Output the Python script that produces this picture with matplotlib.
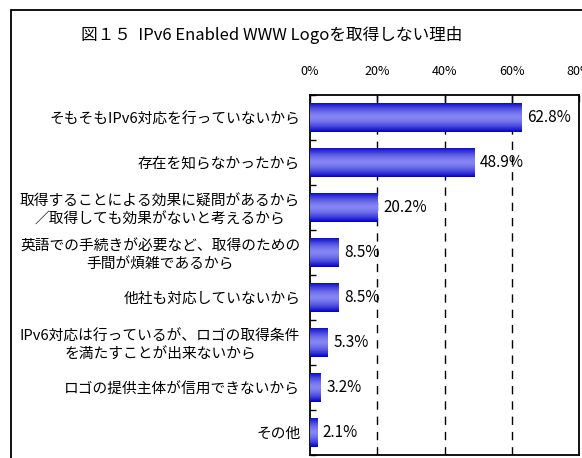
import matplotlib
matplotlib.use("Agg")
import matplotlib.pyplot as plt
import numpy as np
from matplotlib.patches import Rectangle

plt.rcParams['font.family'] = ['Noto Sans CJK JP', 'DejaVu Sans']

title = "図１５  IPv6 Enabled WWW Logoを取得しない理由"
categories = [
    "そもそもIPv6対応を行っていないから",
    "存在を知らなかったから",
    "取得することによる効果に疑問があるから\n／取得しても効果がないと考えるから",
    "英語での手続きが必要など、取得のための\n手間が煩雑であるから",
    "他社も対応していないから",
    "IPv6対応は行っているが、ロゴの取得条件\nを満たすことが出来ないから",
    "ロゴの提供主体が信用できないから",
    "その他",
]
values = [62.8, 48.9, 20.2, 8.5, 8.5, 5.3, 3.2, 2.1]
xticks = [0, 20, 40, 60, 80]
xtick_labels = ["0%", "20%", "40%", "60%", "80%"]

W, H = 582, 458
fig = plt.figure(figsize=(W/100, H/100), dpi=100)

# outer frame (cut off at right and bottom)
fig.patches.append(Rectangle((11/W, -0.1), 1.2, 1 - 10/H + 0.1, transform=fig.transFigure,
                             fill=False, edgecolor='black', linewidth=1.3))

ax = fig.add_axes([310/W, 1 - 455/H, (579-310)/W, (455-95)/H])
n = len(categories)
y = np.arange(n)
bars = ax.barh(y, values, height=0.65, color='#3333dd', edgecolor='none', zorder=2)

# cylinder-like gradient
g = np.linspace(0, 1, 64)
prof = np.abs(g - 0.5) * 2
c_edge = np.array([0.0, 0.0, 0.78])
c_mid = np.array([0.52, 0.52, 0.95])
cols = c_mid[None, :] + (c_edge - c_mid)[None, :] * (prof[:, None] ** 1.6)
img = cols[:, None, :]
for b in bars:
    x0, y0, w, h = b.get_x(), b.get_y(), b.get_width(), b.get_height()
    im = ax.imshow(img, extent=[x0, x0 + w, y0 + h, y0], aspect='auto', zorder=3,
                   interpolation='bilinear')
    im.set_clip_path(b)

ax.set_xlim(0, 80)
ax.set_ylim(n - 0.5, -0.5)
ax.set_xticks(xticks)
ax.set_xticklabels(xtick_labels, fontsize=9)
ax.xaxis.tick_top()
ax.tick_params(axis='x', direction='in', length=5, pad=12, width=1)
for x in xticks[1:-1]:
    ax.axvline(x, color='black', linestyle=(0, (6, 5)), linewidth=1, zorder=1)

ax.set_yticks(y)
ax.set_yticklabels(categories, fontsize=10.6)
for t in ax.get_yticklabels():
    t.set_multialignment('center')
    t.set_linespacing(1.3)
ax.tick_params(axis='y', length=0, pad=7)
ax.set_yticks(np.arange(n + 1) - 0.5, minor=True)
ax.tick_params(axis='y', which='minor', direction='in', length=4, width=1)

for s in ax.spines.values():
    s.set_linewidth(1.3)

for yi, v in zip(y, values):
    ax.annotate(f"{v}%", (v, yi), xytext=(4, 0), textcoords='offset points',
                va='center', ha='left', fontsize=11, zorder=4)

fig.text(272/W, 1 - 35/H, title, ha='center', va='center', fontsize=12)

fig.savefig("out.png", dpi=100)
